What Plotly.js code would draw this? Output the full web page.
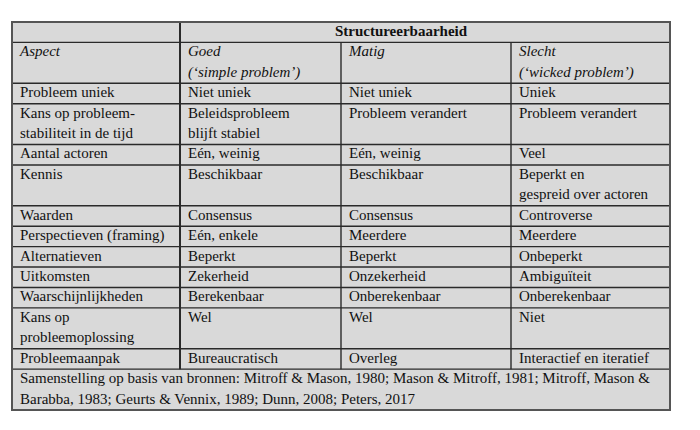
<!DOCTYPE html>
<html>
<head>
<meta charset="utf-8">
<script src="https://cdn.plot.ly/plotly-3.0.1.min.js"></script>
<style>html,body{margin:0;padding:0;background:#fff;}#chart{width:700px;height:430px;}</style>
</head>
<body>
<div id="chart"></div>
<script>
// ---- table content ----
const groupTitle = "Structureerbaarheid";
const colHeaders = [["Aspect"], ["Goed", "(‘simple problem’)"], ["Matig"], ["Slecht", "(‘wicked problem’)"]];
const aspects = [
  ["Probleem uniek"],
  ["Kans op probleem-", "stabiliteit in de tijd"],
  ["Aantal actoren"],
  ["Kennis"],
  ["Waarden"],
  ["Perspectieven (framing)"],
  ["Alternatieven"],
  ["Uitkomsten"],
  ["Waarschijnlijkheden"],
  ["Kans op", "probleemoplossing"],
  ["Probleemaanpak"]
];
const goed = [
  ["Niet uniek"], ["Beleidsprobleem", "blijft stabiel"], ["Eén, weinig"], ["Beschikbaar"],
  ["Consensus"], ["Eén, enkele"], ["Beperkt"], ["Zekerheid"], ["Berekenbaar"], ["Wel"], ["Bureaucratisch"]
];
const matig = [
  ["Niet uniek"], ["Probleem verandert"], ["Eén, weinig"], ["Beschikbaar"],
  ["Consensus"], ["Meerdere"], ["Beperkt"], ["Onzekerheid"], ["Onberekenbaar"], ["Wel"], ["Overleg"]
];
const slecht = [
  ["Uniek"], ["Probleem verandert"], ["Veel"], ["Beperkt en", "gespreid over actoren"],
  ["Controverse"], ["Meerdere"], ["Onbeperkt"], ["Ambiguïteit"], ["Onberekenbaar"], ["Niet"], ["Interactief en iteratief"]
];
const sourceNote = [
  "Samenstelling op basis van bronnen: Mitroff & Mason, 1980; Mason & Mitroff, 1981; Mitroff, Mason &",
  "Barabba, 1983; Geurts & Vennix, 1989; Dunn, 2008; Peters, 2017"
];

// ---- layout geometry ----
const colEdges = [12, 180, 341, 511, 670];
const tableTop = 22, tableBottom = 410;
const padX = 8;
const FONT = "'Liberation Serif', 'Times New Roman', serif";
const FS = 15;
const TXT = "#111";

// row line-counts
const bodyRows = aspects.map((a, i) => Math.max(a.length, goed[i].length, matig[i].length, slecht[i].length));
const headRowLines = Math.max(...colHeaders.map(h => h.length));
const allRows = [1, headRowLines].concat(bodyRows).concat([sourceNote.length]);
const totalUnits = allRows.reduce((s, v) => s + v, 0);
const unit = (tableBottom - tableTop) / totalUnits;
const rowTops = [];
let acc = tableTop;
allRows.forEach(n => { rowTops.push(acc); acc += n * unit; });
rowTops.push(acc);

const traces = [];
function addCell(colIdx, rowIdx, lines, italic, bold, centerX) {
  const xs = [], ys = [], ts = [];
  lines.forEach((ln, k) => {
    xs.push(centerX !== undefined ? centerX : colEdges[colIdx] + padX);
    ys.push(rowTops[rowIdx] + unit * (k + 0.5));
    let t = ln.replace(/&/g, "&amp;");
    if (italic) t = "<i>" + t + "</i>";
    if (bold) t = "<b>" + t + "</b>";
    ts.push(t);
  });
  traces.push({
    type: "scatter", mode: "text", x: xs, y: ys, text: ts,
    textposition: centerX !== undefined ? "middle center" : "middle right",
    textfont: {family: FONT, size: FS, color: TXT},
    hoverinfo: "skip", showlegend: false, cliponaxis: false
  });
}
// group title
addCell(1, 0, [groupTitle], false, true, 401);
// column headers
colHeaders.forEach((h, c) => addCell(c, 1, h, true, false));
// body
[aspects, goed, matig, slecht].forEach((col, c) => {
  col.forEach((cell, r) => addCell(c, r + 2, cell, false, false));
});
// source note
addCell(0, allRows.length - 1, sourceNote, false, false);

// ---- shapes ----
const LC = "#2a2a2a";
const shapes = [];
shapes.push({type: "rect", xref: "x", yref: "y", x0: colEdges[0], x1: colEdges[4], y0: tableTop, y1: tableBottom,
  fillcolor: "#d9d9d9", line: {width: 0}, layer: "below"});
// horizontal lines
for (let i = 1; i < rowTops.length - 1; i++) {
  shapes.push({type: "line", xref: "x", yref: "y", x0: colEdges[0], x1: colEdges[4], y0: rowTops[i], y1: rowTops[i],
    line: {color: LC, width: 1.4}});
}
// vertical lines
const footTop = rowTops[rowTops.length - 2];
shapes.push({type: "line", xref: "x", yref: "y", x0: colEdges[1], x1: colEdges[1], y0: tableTop, y1: footTop, line: {color: LC, width: 2}});
[2, 3].forEach(c => shapes.push({type: "line", xref: "x", yref: "y", x0: colEdges[c], x1: colEdges[c], y0: rowTops[1], y1: footTop, line: {color: LC, width: 1.4}}));
// outer border
shapes.push({type: "rect", xref: "x", yref: "y", x0: colEdges[0], x1: colEdges[4], y0: tableTop, y1: tableBottom,
  fillcolor: "rgba(0,0,0,0)", line: {color: "#555", width: 2}});

const layout = {
  width: 700, height: 430,
  margin: {l: 0, r: 0, t: 0, b: 0},
  paper_bgcolor: "#ffffff", plot_bgcolor: "#ffffff",
  xaxis: {range: [0, 700], visible: false, fixedrange: true},
  yaxis: {range: [430, 0], visible: false, fixedrange: true},
  shapes: shapes,
  showlegend: false
};
Plotly.newPlot("chart", traces, layout, {staticPlot: true, displayModeBar: false});
</script>
</body>
</html>
